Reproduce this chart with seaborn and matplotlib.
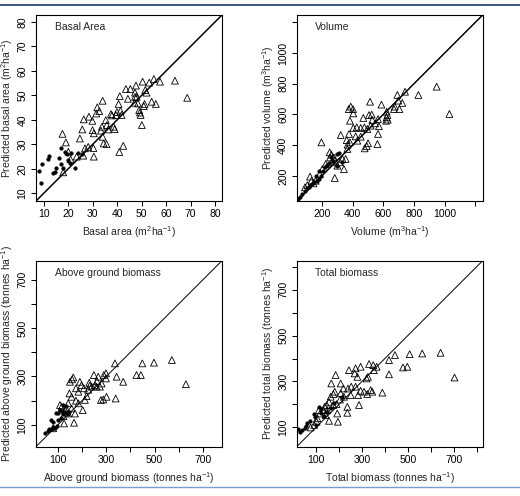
import numpy as np
import pandas as pd
import seaborn as sns
from matplotlib import pyplot as plt
from matplotlib.lines import Line2D

# observed vs predicted, two groups: dots (filled) and triangles (open)
ba_dot_x = [8.1, 8.8, 9.4, 11.9, 12.2, 13.9, 14.6, 15.0, 16.4, 17.3, 17.3, 18.0, 18.7, 19.4, 20.1, 20.7, 21.3, 22.9, 23.9, 25.5]
ba_dot_y = [19.0, 14.1, 22.0, 23.9, 25.4, 18.4, 18.7, 20.2, 24.3, 28.4, 22.2, 20.2, 27.0, 26.0, 23.6, 22.5, 26.3, 20.2, 26.6, 25.9]
ba_tri_x = [17.7, 19.1, 20.1, 21.0, 18.0, 24.8, 25.8, 26.4, 28.5, 26.2, 26.9, 29.9, 30.0, 30.5, 30.3, 30.5, 31.5, 31.9,
            32.7, 34.1, 33.4, 33.8, 34.1, 34.5, 35.7, 35.4, 35.8, 36.4, 37.5, 37.9, 38.6, 39.0, 39.5, 39.9, 40.6, 41.1,
            41.4, 41.8, 40.9, 42.5, 43.6, 44.4, 45.4, 47.3, 47.3, 47.7, 47.1, 48.0, 48.5, 49.0, 49.3, 49.6, 50.1, 50.4,
            50.9, 51.2, 51.5, 52.0, 53.1, 54.1, 55.0, 55.8, 57.5, 63.6, 68.6, 23.5, 28.2]
ba_tri_y = [34.3, 30.8, 27.0, 23.9, 18.6, 32.4, 36.1, 40.2, 41.3, 25.4, 28.4, 39.6, 35.8, 34.5, 28.5, 25.0, 42.6, 45.1,
            43.6, 47.8, 35.6, 37.2, 33.1, 30.4, 30.1, 39.9, 37.9, 36.1, 42.4, 41.8, 37.2, 36.2, 42.0, 43.2, 46.5, 49.7,
            43.7, 42.0, 26.9, 29.4, 52.6, 48.6, 52.6, 49.4, 51.1, 54.0, 47.0, 49.4, 46.7, 44.0, 43.0, 42.0, 37.9, 55.6,
            45.6, 46.5, 52.2, 51.1, 55.2, 47.4, 56.7, 46.5, 55.6, 56.0, 49.0, 25.0, 29.0]

vol_dot_x = [47, 56, 73, 90, 106, 116, 123, 138, 149, 166, 182, 192, 210, 221, 236, 247, 258, 275, 297, 312, 301, 334, 182, 160]
vol_dot_y = [49, 60, 82, 103, 121, 125, 140, 147, 158, 168, 179, 201, 234, 255, 273, 281, 320, 299, 342, 347, 266, 288, 229, 201]
vol_tri_x = [1031, 948, 829, 742, 724, 692, 698, 705, 675, 670, 622, 627, 622, 629, 618, 588, 566, 572, 566, 562, 529,
             547, 525, 507, 514, 518, 496, 501, 492, 477, 470, 453, 453, 427, 420, 479, 431, 383, 375, 388, 403, 405,
             405, 383, 377, 366, 362, 368, 334, 355, 344, 323, 284, 197, 251, 262, 279, 225, 203, 186, 160, 145, 132,
             123, 106, 90, 253, 268, 284, 301, 318]
vol_tri_y = [603, 781, 727, 748, 675, 727, 690, 635, 651, 635, 618, 596, 581, 566, 559, 664, 570, 523, 473, 407, 564,
             542, 599, 596, 683, 527, 505, 412, 394, 516, 577, 455, 512, 516, 457, 379, 429, 559, 635, 651, 635, 607,
             512, 418, 473, 375, 433, 403, 310, 310, 244, 466, 186, 418, 353, 338, 320, 277, 244, 212, 168, 151, 168,
             195, 140, 125, 320, 288, 299, 266, 288]

agb_dot_x = [47, 58, 65, 75, 81, 79, 70, 95, 102, 102, 93, 109, 119, 123, 130, 137, 141, 148, 134, 120, 88, 112]
agb_dot_y = [68, 75, 82, 82, 93, 113, 120, 95, 120, 150, 148, 161, 158, 147, 154, 150, 145, 154, 178, 182, 88, 130]
agb_tri_x = [629, 571, 497, 449, 443, 425, 343, 370, 336, 339, 301, 299, 299, 290, 281, 288, 278, 267, 274, 260, 253,
             249, 240, 230, 219, 212, 208, 198, 203, 191, 164, 159, 150, 185, 175, 185, 148, 157, 175, 143, 134, 157,
             171, 167, 143, 130, 109, 116, 123, 126, 81, 225, 232, 262]
agb_tri_y = [268, 368, 357, 354, 306, 306, 299, 278, 354, 209, 216, 313, 292, 306, 271, 205, 203, 299, 258, 258, 264,
             306, 258, 274, 219, 203, 251, 264, 161, 278, 296, 288, 278, 237, 200, 189, 230, 216, 251, 189, 168, 168,
             147, 109, 147, 161, 182, 175, 136, 106, 86, 245, 262, 280]

tb_dot_x = [22, 30, 40, 50, 54, 62, 73, 91, 94, 112, 123, 120, 146, 166, 178, 214, 100, 135]
tb_dot_y = [92, 80, 88, 95, 107, 117, 128, 157, 146, 189, 179, 160, 168, 182, 204, 233, 110, 150]
tb_tri_x = [704, 643, 563, 508, 498, 479, 444, 418, 418, 389, 364, 352, 349, 331, 294, 338, 345, 323, 326, 320, 309,
            294, 280, 287, 283, 272, 268, 272, 253, 251, 243, 239, 236, 221, 219, 207, 207, 204, 185, 181, 175, 166,
            163, 192, 189, 175, 156, 149, 146, 141, 156, 195, 236, 131, 137, 117, 112, 105, 102, 91, 76]
tb_tri_y = [317, 425, 422, 419, 364, 361, 415, 393, 331, 251, 364, 349, 371, 376, 364, 262, 255, 245, 320, 313, 255,
            259, 320, 197, 240, 277, 335, 357, 277, 240, 349, 269, 189, 233, 269, 291, 248, 221, 328, 255, 245, 291,
            233, 160, 201, 197, 211, 175, 197, 153, 128, 124, 163, 175, 189, 160, 175, 139, 124, 110, 99]

panels = [
    dict(title="Basal Area", dx=ba_dot_x, dy=ba_dot_y, tx=ba_tri_x, ty=ba_tri_y, lim=(6.9, 82.8),
         ticks=[10, 20, 30, 40, 50, 60, 70, 80], labels=["10", "20", "30", "40", "50", "60", "70", "80"],
         xlab=r"Basal area (m$^2$ha$^{-1}$)", ylab=r"Predicted basal area (m$^2$ha$^{-1}$)", lw=1.1),
    dict(title="Volume", dx=vol_dot_x, dy=vol_dot_y, tx=vol_tri_x, ty=vol_tri_y, lim=(36, 1248),
         ticks=[200, 400, 600, 800, 1000, 1200], labels=["200", "400", "600", "800", "1000", ""],
         xlab=r"Volume (m$^3$ha$^{-1}$)", ylab=r"Predicted volume (m$^3$ha$^{-1}$)", lw=1.1),
    dict(title="Above ground biomass", dx=agb_dot_x, dy=agb_dot_y, tx=agb_tri_x, ty=agb_tri_y, lim=(10, 778),
         ticks=[100, 200, 300, 400, 500, 600, 700], labels=["100", "", "300", "", "500", "", "700"],
         xlab=r"Above ground biomass (tonnes ha$^{-1}$)",
         ylab=r"Predicted above ground biomass (tonnes ha$^{-1}$)", lw=0.7),
    dict(title="Total biomass", dx=tb_dot_x, dy=tb_dot_y, tx=tb_tri_x, ty=tb_tri_y, lim=(15, 827),
         ticks=[100, 200, 300, 400, 500, 600, 700, 800], labels=["100", "", "300", "", "500", "", "700", ""],
         xlab=r"Total biomass (tonnes ha$^{-1}$)", ylab=r"Predicted total biomass (tonnes ha$^{-1}$)", lw=0.7),
]

sns.set_style("ticks")
plt.rcParams['font.family'] = ['Liberation Sans', 'DejaVu Sans']
plt.rcParams['mathtext.fontset'] = 'custom'
plt.rcParams['mathtext.rm'] = 'Liberation Sans'
plt.rcParams['mathtext.it'] = 'Liberation Sans:italic'
plt.rcParams['mathtext.default'] = 'regular'

fig = plt.figure(figsize=(5.2, 4.96), dpi=100)
W, H = 520, 496
boxes = [(36, 15), (296.7, 15), (36, 260.7), (296.7, 260.7)]

for p, (bx, by) in zip(panels, boxes):
    ax = fig.add_axes([bx / W, 1 - (by + 186) / H, 186 / W, 186 / H])
    lo, hi = p['lim']
    ax.plot([lo, hi], [lo, hi], color='black', lw=p['lw'], zorder=1)
    sns.scatterplot(x=p['tx'], y=p['ty'], ax=ax, marker='^', s=24, facecolor='none',
                    edgecolor='black', linewidth=0.6, zorder=2)
    sns.scatterplot(x=p['dx'], y=p['dy'], ax=ax, marker='o', s=7, color='black',
                    edgecolor='black', linewidth=0.3, zorder=3)
    ax.set_xlim(lo, hi)
    ax.set_ylim(lo, hi)
    ax.set_xticks(p['ticks'])
    ax.set_xticklabels(p['labels'])
    ax.set_yticks(p['ticks'])
    ax.set_yticklabels(p['labels'], rotation=90, va='center')
    ax.tick_params(length=3.6, width=0.75, pad=2.5, labelsize=7.5, colors='black')
    for s in ax.spines.values():
        s.set_linewidth(0.8)
        s.set_color('black')
    ax.set_xlabel(p['xlab'], fontsize=7.5)
    ax.set_ylabel(p['ylab'], fontsize=7.5)
    ax.xaxis.set_label_coords(0.5, -0.125)
    ax.yaxis.set_label_coords(-0.112, 0.5)
    ax.text(0.1, 0.935, p['title'], transform=ax.transAxes, fontsize=7.5, va='center', ha='left')

fig.add_artist(Line2D([0, 1], [1 - 5 / H, 1 - 5 / H], transform=fig.transFigure, color='#1c3a78', lw=1.2))
fig.add_artist(Line2D([0, 1], [1 - 487 / H, 1 - 487 / H], transform=fig.transFigure, color='#7b9bd3', lw=1.0))

fig.savefig('out.png', dpi=100)
